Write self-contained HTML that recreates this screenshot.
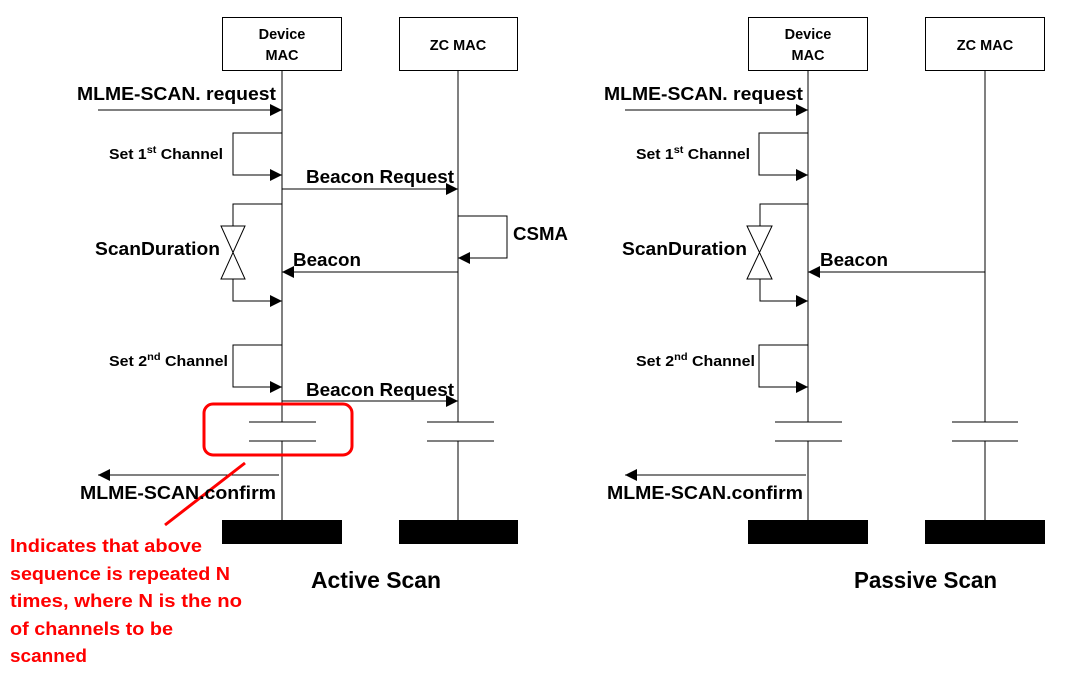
<!DOCTYPE html>
<html><head><meta charset="utf-8"><style>
html,body{margin:0;padding:0;background:#fff;}
svg{display:block;}
text{font-family:"Liberation Sans",sans-serif;font-weight:bold;fill:#000;}
</style></head><body>
<svg width="1071" height="673" viewBox="0 0 1071 673" xmlns="http://www.w3.org/2000/svg">
<defs>
<marker id="a" viewBox="0 0 12 12" refX="12" refY="6" markerWidth="12" markerHeight="12" markerUnits="userSpaceOnUse" orient="auto"><path d="M0,0 L12,6 L0,12 z" fill="#000"/></marker>
</defs>
<g stroke="#000" stroke-width="1" fill="none">
<rect x="222.5" y="17.5" width="119" height="53" fill="#fff"/>
<rect x="399.5" y="17.5" width="118" height="53" fill="#fff"/>
<line x1="282" y1="71" x2="282" y2="422"/><line x1="282" y1="441" x2="282" y2="520"/>
<line x1="458" y1="71" x2="458" y2="422"/><line x1="458" y1="441" x2="458" y2="520"/>
<line x1="98" y1="110" x2="282" y2="110" marker-end="url(#a)"/>
<polyline points="282,133 233,133 233,175 282,175" marker-end="url(#a)"/>
<line x1="282" y1="189" x2="458" y2="189" marker-end="url(#a)"/>
<polyline points="282,204 233,204 233,226"/>
<path d="M221,226 L245,226 L221,279 L245,279 Z" fill="#fff"/>
<polyline points="233,279 233,301 282,301" marker-end="url(#a)"/>
<polyline points="458,216 507,216 507,258 458,258" marker-end="url(#a)"/>
<line x1="458" y1="272" x2="282" y2="272" marker-end="url(#a)"/>
<polyline points="282,345 233,345 233,387 282,387" marker-end="url(#a)"/>
<line x1="282" y1="401" x2="458" y2="401" marker-end="url(#a)"/>
<line x1="249" y1="422" x2="316" y2="422"/><line x1="249" y1="441" x2="316" y2="441"/>
<line x1="427" y1="422" x2="494" y2="422"/><line x1="427" y1="441" x2="494" y2="441"/>
<line x1="279" y1="475" x2="98" y2="475" marker-end="url(#a)"/>
<rect x="748.5" y="17.5" width="119" height="53" fill="#fff"/>
<rect x="925.5" y="17.5" width="119" height="53" fill="#fff"/>
<line x1="808" y1="71" x2="808" y2="422"/><line x1="808" y1="441" x2="808" y2="520"/>
<line x1="985" y1="71" x2="985" y2="422"/><line x1="985" y1="441" x2="985" y2="520"/>
<line x1="625" y1="110" x2="808" y2="110" marker-end="url(#a)"/>
<polyline points="808,133 759,133 759,175 808,175" marker-end="url(#a)"/>
<polyline points="808,204 760,204 760,226"/>
<path d="M747,226 L772,226 L747,279 L772,279 Z" fill="#fff"/>
<polyline points="760,279 760,301 808,301" marker-end="url(#a)"/>
<line x1="985" y1="272" x2="808" y2="272" marker-end="url(#a)"/>
<polyline points="808,345 759,345 759,387 808,387" marker-end="url(#a)"/>
<line x1="775" y1="422" x2="842" y2="422"/><line x1="775" y1="441" x2="842" y2="441"/>
<line x1="952" y1="422" x2="1018" y2="422"/><line x1="952" y1="441" x2="1018" y2="441"/>
<line x1="806" y1="475" x2="625" y2="475" marker-end="url(#a)"/>
</g>
<rect x="222" y="520" width="120" height="24" fill="#000"/>
<rect x="399" y="520" width="119" height="24" fill="#000"/>
<rect x="748" y="520" width="120" height="24" fill="#000"/>
<rect x="925" y="520" width="120" height="24" fill="#000"/>
<rect x="204" y="404" width="148" height="51" rx="9" fill="none" stroke="#f00" stroke-width="3"/>
<line x1="245" y1="463" x2="165" y2="525" stroke="#f00" stroke-width="3"/>
<g font-size="14.5">
<text x="282" y="39" text-anchor="middle">Device</text>
<text x="282" y="60" text-anchor="middle">MAC</text>
<text x="458" y="50" text-anchor="middle">ZC MAC</text>
<text x="808" y="39" text-anchor="middle">Device</text>
<text x="808" y="60" text-anchor="middle">MAC</text>
<text x="985" y="50" text-anchor="middle">ZC MAC</text>
<text x="109" y="159" textLength="114" lengthAdjust="spacingAndGlyphs">Set 1<tspan font-size="10" dy="-6">st</tspan><tspan dy="6"> Channel</tspan></text>
<text x="109" y="366" textLength="119" lengthAdjust="spacingAndGlyphs">Set 2<tspan font-size="10" dy="-6">nd</tspan><tspan dy="6"> Channel</tspan></text>
<text x="636" y="159" textLength="114" lengthAdjust="spacingAndGlyphs">Set 1<tspan font-size="10" dy="-6">st</tspan><tspan dy="6"> Channel</tspan></text>
<text x="636" y="366" textLength="119" lengthAdjust="spacingAndGlyphs">Set 2<tspan font-size="10" dy="-6">nd</tspan><tspan dy="6"> Channel</tspan></text>
</g>
<g font-size="18">
<text x="77" y="100" textLength="199" lengthAdjust="spacingAndGlyphs">MLME-SCAN. request</text>
<text x="604" y="100" textLength="199" lengthAdjust="spacingAndGlyphs">MLME-SCAN. request</text>
<text x="306" y="183" textLength="148" lengthAdjust="spacingAndGlyphs">Beacon Request</text>
<text x="306" y="396" textLength="148" lengthAdjust="spacingAndGlyphs">Beacon Request</text>
<text x="95" y="255" textLength="125" lengthAdjust="spacingAndGlyphs">ScanDuration</text>
<text x="622" y="255" textLength="125" lengthAdjust="spacingAndGlyphs">ScanDuration</text>
<text x="293" y="266" textLength="68" lengthAdjust="spacingAndGlyphs">Beacon</text>
<text x="820" y="266" textLength="68" lengthAdjust="spacingAndGlyphs">Beacon</text>
<text x="513" y="240" textLength="55" lengthAdjust="spacingAndGlyphs">CSMA</text>
<text x="80" y="499" textLength="196" lengthAdjust="spacingAndGlyphs">MLME-SCAN.confirm</text>
<text x="607" y="499" textLength="196" lengthAdjust="spacingAndGlyphs">MLME-SCAN.confirm</text>
</g>
<g font-size="23">
<text x="311" y="588" textLength="130" lengthAdjust="spacingAndGlyphs">Active Scan</text>
<text x="854" y="588" textLength="143" lengthAdjust="spacingAndGlyphs">Passive Scan</text>
</g>
<g font-size="18">
<text x="10" y="552" textLength="192" lengthAdjust="spacingAndGlyphs" style="fill:#f00">Indicates that above</text>
<text x="10" y="580" textLength="220" lengthAdjust="spacingAndGlyphs" style="fill:#f00">sequence is repeated N</text>
<text x="10" y="607" textLength="232" lengthAdjust="spacingAndGlyphs" style="fill:#f00">times, where N is the no</text>
<text x="10" y="635" textLength="163" lengthAdjust="spacingAndGlyphs" style="fill:#f00">of channels to be</text>
<text x="10" y="662" textLength="77" lengthAdjust="spacingAndGlyphs" style="fill:#f00">scanned</text>
</g>
</svg>
</body></html>
